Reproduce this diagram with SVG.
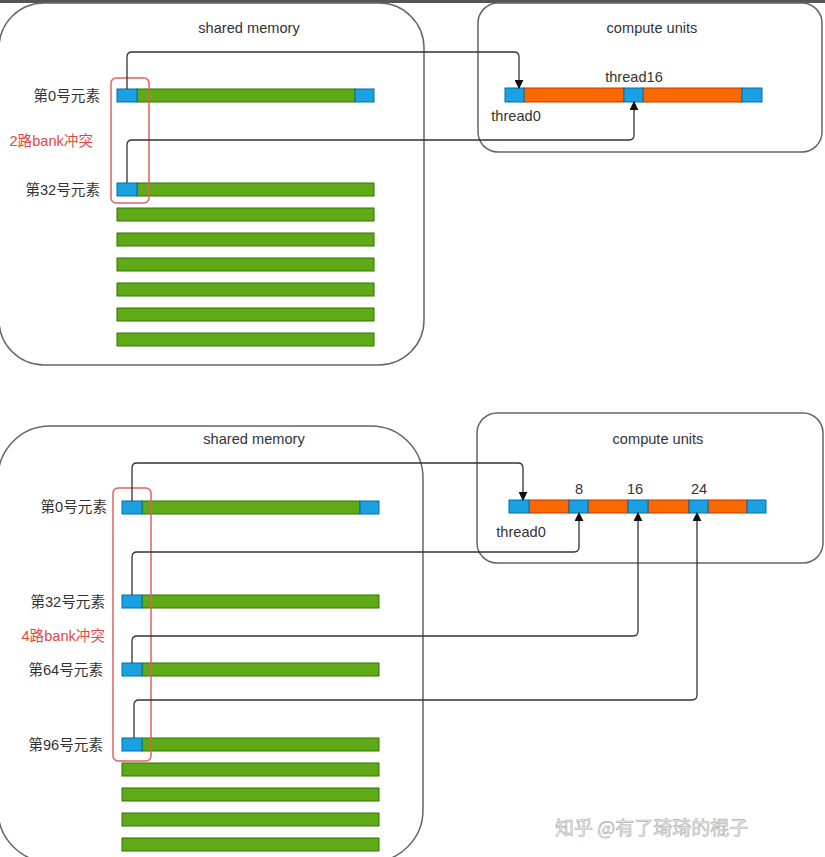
<svg xmlns="http://www.w3.org/2000/svg" width="825" height="857" viewBox="0 0 825 857">
<defs>
<style>
.box{fill:#fff;stroke:#666;stroke-width:1.5}
.t{font-family:"Liberation Sans","Noto Sans CJK SC",sans-serif;font-size:14.6px;fill:#333}
.cn{font-family:"Liberation Sans","Noto Sans CJK SC",sans-serif;font-size:14.6px;fill:#333;text-anchor:end}
.red{font-family:"Liberation Sans","Noto Sans CJK SC",sans-serif;font-size:14.6px;fill:#e04848;text-anchor:end}
.b{fill:#1ba1e2;stroke:#006eaf;stroke-width:1}
.g{fill:#60a917;stroke:#2d7600;stroke-width:1}
.o{fill:#fa6800;stroke:#c73500;stroke-width:1}
.rr{fill:none;stroke:#e06060;stroke-width:1.5}
.c{fill:none;stroke:#333;stroke-width:1.3}
.wm{font-family:"Noto Sans CJK SC","Liberation Sans",sans-serif;font-size:19px;fill:#eeeeee;stroke:#b0b0b0;stroke-width:0.6}
</style>
<marker id="ah" viewBox="0 0 10 10" refX="9" refY="5" markerWidth="9" markerHeight="9" markerUnits="userSpaceOnUse" orient="auto">
<path d="M0,0 L10,5 L0,10 Z" fill="#111"/>
</marker>
</defs>
<rect x="0" y="0" width="825" height="857" fill="#fff"/>
<rect x="0" y="0" width="825" height="3" fill="#555"/>

<!-- top section -->
<g id="shared-memory-top">
<rect class="box" x="-1" y="3" width="425" height="362" rx="45"/>
<text class="t" x="249" y="33" text-anchor="middle">shared memory</text>
</g>
<g id="compute-units-top">
<rect class="box" x="478" y="3" width="344" height="149" rx="20"/>
<text class="t" x="652" y="33" text-anchor="middle">compute units</text>
</g>
<g id="sm-top-row0">
<text class="cn" x="100" y="101">第0号元素</text>
<rect class="g" x="137" y="89" width="218" height="13"/>
<rect class="b" x="117" y="89" width="20" height="13"/>
<rect class="b" x="355" y="89" width="19" height="13"/>
</g>
<g id="sm-top-row32">
<text class="cn" x="100" y="195">第32号元素</text>
<rect class="g" x="137" y="183" width="237" height="13"/>
<rect class="b" x="117" y="183" width="20" height="13"/>
</g>
<g id="sm-top-rows">
<rect class="g" x="117" y="208" width="257" height="13"/>
<rect class="g" x="117" y="233" width="257" height="13"/>
<rect class="g" x="117" y="258" width="257" height="13"/>
<rect class="g" x="117" y="283" width="257" height="13"/>
<rect class="g" x="117" y="308" width="257" height="13"/>
<rect class="g" x="117" y="333" width="257" height="13"/>
</g>
<g id="conflict-top">
<rect class="rr" x="111" y="78" width="38" height="125" rx="5"/>
<text class="red" x="93" y="146">2路bank冲突</text>
</g>
<g id="threads-top">
<rect class="o" x="524" y="88" width="100" height="14"/>
<rect class="o" x="643" y="88" width="99" height="14"/>
<rect class="b" x="505" y="88" width="19" height="14"/>
<rect class="b" x="624" y="88" width="19" height="14"/>
<rect class="b" x="742" y="88" width="20" height="14"/>
<text class="t" x="634" y="82" text-anchor="middle">thread16</text>
<text class="t" x="516" y="121" text-anchor="middle">thread0</text>
</g>

<!-- bottom section -->
<g id="shared-memory-bottom">
<rect class="box" x="-2" y="426" width="425" height="436" rx="52"/>
<text class="t" x="254" y="444" text-anchor="middle">shared memory</text>
</g>
<g id="compute-units-bottom">
<rect class="box" x="477" y="413" width="346" height="150" rx="20"/>
<text class="t" x="658" y="444" text-anchor="middle">compute units</text>
</g>
<g id="sm-bot-row0">
<text class="cn" x="107" y="512">第0号元素</text>
<rect class="g" x="142" y="501" width="218" height="13"/>
<rect class="b" x="122" y="501" width="20" height="13"/>
<rect class="b" x="360" y="501" width="19" height="13"/>
</g>
<g id="sm-bot-row32">
<text class="cn" x="105" y="607">第32号元素</text>
<rect class="g" x="142" y="595" width="237" height="13"/>
<rect class="b" x="122" y="595" width="20" height="13"/>
</g>
<g id="sm-bot-row64">
<text class="cn" x="103" y="675">第64号元素</text>
<rect class="g" x="142" y="663" width="237" height="13"/>
<rect class="b" x="122" y="663" width="20" height="13"/>
</g>
<g id="sm-bot-row96">
<text class="cn" x="103" y="750">第96号元素</text>
<rect class="g" x="142" y="738" width="237" height="13"/>
<rect class="b" x="122" y="738" width="20" height="13"/>
</g>
<g id="sm-bot-rows">
<rect class="g" x="122" y="763" width="257" height="13"/>
<rect class="g" x="122" y="788" width="257" height="13"/>
<rect class="g" x="122" y="813" width="257" height="13"/>
<rect class="g" x="122" y="838" width="257" height="13"/>
</g>
<g id="conflict-bottom">
<rect class="rr" x="113" y="488" width="38" height="273" rx="5"/>
<text class="red" x="105" y="641">4路bank冲突</text>
</g>
<g id="threads-bottom">
<rect class="o" x="529" y="500" width="40" height="13"/>
<rect class="o" x="588" y="500" width="40" height="13"/>
<rect class="o" x="648" y="500" width="41" height="13"/>
<rect class="o" x="708" y="500" width="39" height="13"/>
<rect class="b" x="509" y="500" width="20" height="13"/>
<rect class="b" x="569" y="500" width="19" height="13"/>
<rect class="b" x="628" y="500" width="20" height="13"/>
<rect class="b" x="689" y="500" width="19" height="13"/>
<rect class="b" x="747" y="500" width="19" height="13"/>
<text class="t" x="579" y="494" text-anchor="middle">8</text>
<text class="t" x="635" y="494" text-anchor="middle">16</text>
<text class="t" x="699" y="494" text-anchor="middle">24</text>
<text class="t" x="521" y="537" text-anchor="middle">thread0</text>
</g>

<g id="connectors">
<path class="c" marker-end="url(#ah)" d="M127,89 V57 Q127,52 132,52 H514 Q519,52 519,57 V88"/>
<path class="c" marker-end="url(#ah)" d="M127,183 V145 Q127,140 132,140 H629 Q634,140 634,135 V102"/>
<path class="c" marker-end="url(#ah)" d="M132,501 V468 Q132,463 137,463 H518 Q523,463 523,468 V500"/>
<path class="c" marker-end="url(#ah)" d="M132,595 V557 Q132,552 137,552 H574 Q579,552 579,547 V513"/>
<path class="c" marker-end="url(#ah)" d="M132,663 V641 Q132,636 137,636 H633 Q638,636 638,631 V513"/>
<path class="c" marker-end="url(#ah)" d="M134,738 V705 Q134,700 139,700 H692 Q697,700 697,695 V513"/>
</g>

<text class="wm" x="555" y="835">知乎 @有了琦琦的棍子</text>
</svg>
